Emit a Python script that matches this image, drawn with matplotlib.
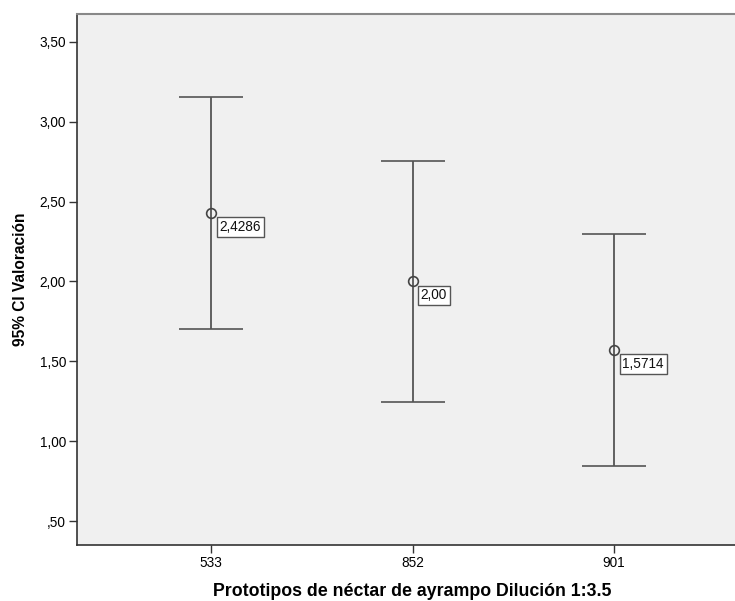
import matplotlib
matplotlib.use("Agg")
import matplotlib.pyplot as plt

plt.rcParams['font.family'] = ['Liberation Sans', 'DejaVu Sans']

categories = ["533", "852", "901"]
means = [2.4286, 2.00, 1.5714]
mean_labels = ["2,4286", "2,00", "1,5714"]
ci_lower = [1.701, 1.244, 0.844]
ci_upper = [3.156, 2.756, 2.299]
y_ticks = [0.5, 1.0, 1.5, 2.0, 2.5, 3.0, 3.5]
y_tick_labels = [",50", "1,00", "1,50", "2,00", "2,50", "3,00", "3,50"]

W, H = 735, 601
fig = plt.figure(figsize=(W / 100, H / 100), dpi=100)
ax = fig.add_axes([77 / W, 56 / H, 671 / W, 531 / H])
ax.set_facecolor("#f0f0f0")

x = list(range(len(categories)))
err_lo = [m - lo for m, lo in zip(means, ci_lower)]
err_hi = [hi - m for m, hi in zip(means, ci_upper)]
ax.errorbar(x, means, yerr=[err_lo, err_hi], fmt="o", color="#555555",
            ecolor="#555555", elinewidth=1.3, capsize=23, capthick=1.3,
            markersize=7, markerfacecolor="none", markeredgewidth=1.2,
            markeredgecolor="#444444")

for xi, m, lab in zip(x, means, mean_labels):
    ax.annotate(lab, (xi, m), xytext=(6, -5), textcoords="offset points",
                ha="left", va="top", fontsize=9.8, color="#111111",
                bbox=dict(boxstyle="square,pad=0.2", facecolor="white",
                          edgecolor="#555555", linewidth=1.0))

ax.set_xlim(-0.665, 2.665)
ax.set_ylim(0.35, 3.675)
ax.set_xticks(x)
ax.set_xticklabels(categories, fontsize=9.8)
ax.set_yticks(y_ticks)
ax.set_yticklabels(y_tick_labels, fontsize=9.8)
ax.tick_params(axis="both", length=6, width=1.0, color="#333333", pad=2)

for side in ["left", "bottom"]:
    ax.spines[side].set_color("#333333")
    ax.spines[side].set_linewidth(1.2)
ax.spines["top"].set_color("#888888")
ax.spines["top"].set_linewidth(1.5)
ax.spines["right"].set_visible(False)

ax.set_ylabel("95% CI Valoración", fontsize=11.2, fontweight="bold", labelpad=8)
ax.set_xlabel("Prototipos de néctar de ayrampo Dilución 1:3.5", fontsize=12.8,
              fontweight="bold", labelpad=9)

fig.savefig("out.png", dpi=100)
